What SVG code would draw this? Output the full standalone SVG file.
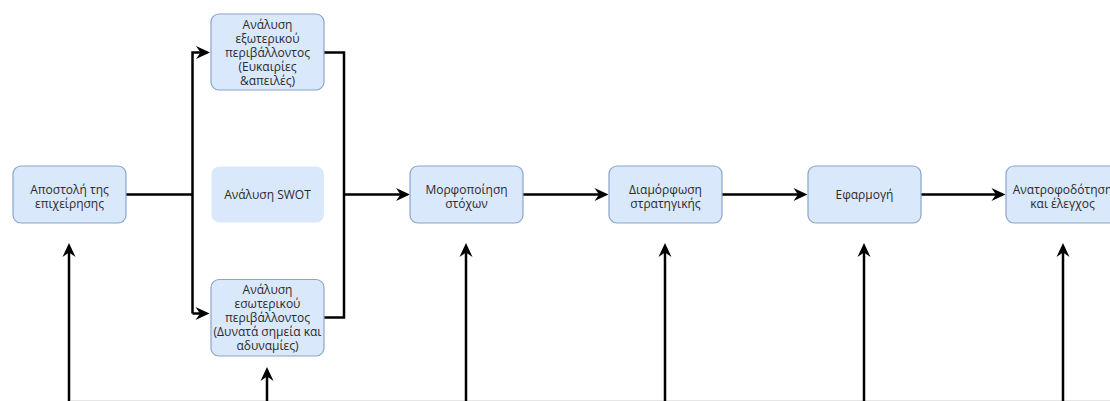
<svg xmlns="http://www.w3.org/2000/svg" width="1110" height="401" viewBox="0 0 1110 401">
  <style>
    .box { fill: #dae8fc; stroke: #8aa4c8; stroke-width: 1.2; }
    .plain { fill: #dae8fc; stroke: none; }
    .lbl { font-family: "Open Sans", "Liberation Sans", Arial, sans-serif; font-size: 12px; fill: #2a2a2a; text-anchor: middle; }
    .edge { fill: none; stroke: #000; stroke-width: 2.5; }
    .arr { marker-end: url(#arrow); }
  </style>
  <defs>
    <marker id="arrow" markerUnits="userSpaceOnUse" markerWidth="16" markerHeight="16" viewBox="-15 -8 15 16" refX="-9" refY="0" orient="auto">
      <path d="M0,0 L-14,-6.5 L-9.5,0 L-14,6.5 Z" fill="#000"/>
    </marker>
  </defs>
  <rect width="1110" height="401" fill="#fff"/>
  <line x1="71" y1="400.5" x2="1110" y2="400.5" stroke="#e6e6e6" stroke-width="1"/>

  <g id="connectors">
    <path class="edge" d="M126,194.5 H192.5"/>
    <path class="edge arr" d="M192.5,313.5 V52.5 H201"/>
    <path class="edge arr" d="M192.5,313.5 H200.5"/>
    <path class="edge" d="M324,52.5 H344 V317.5 H324"/>
    <path class="edge arr" d="M344,194.5 H401"/>
    <path class="edge arr" d="M523,194.5 H599.5"/>
    <path class="edge arr" d="M722,194.5 H798.5"/>
    <path class="edge arr" d="M921,194.5 H996.5"/>
    <path class="edge arr" d="M69,401 V252"/>
    <path class="edge arr" d="M267,401 V376"/>
    <path class="edge arr" d="M466,401 V252"/>
    <path class="edge arr" d="M665,401 V252"/>
    <path class="edge arr" d="M864,401 V252"/>
    <path class="edge arr" d="M1063,401 V252"/>
  </g>

  <g id="node-mission">
    <rect class="box" x="13" y="166" width="113" height="57" rx="8"/>
    <text class="lbl" y="193.5"><tspan x="69.5">Αποστολή της</tspan><tspan x="69.5" dy="14">επιχείρησης</tspan></text>
  </g>

  <g id="node-external">
    <rect class="box" x="211" y="14" width="113" height="76" rx="8"/>
    <text class="lbl" y="29"><tspan x="267.5">Ανάλυση</tspan><tspan x="267.5" dy="14">εξωτερικού</tspan><tspan x="267.5" dy="14">περιβάλλοντος</tspan><tspan x="267.5" dy="14">(Ευκαιρίες</tspan><tspan x="267.5" dy="14">&amp;απειλές)</tspan></text>
  </g>

  <g id="node-swot">
    <rect class="plain" x="211.5" y="166.5" width="112.5" height="56" rx="8"/>
    <text class="lbl" x="267.5" y="198.5">Ανάλυση SWOT</text>
  </g>

  <g id="node-internal">
    <rect class="box" x="211" y="279.5" width="113" height="76.5" rx="8"/>
    <text class="lbl" y="294"><tspan x="267.5">Ανάλυση</tspan><tspan x="267.5" dy="14">εσωτερικού</tspan><tspan x="267.5" dy="14">περιβάλλοντος</tspan><tspan x="267.5" dy="14">(Δυνατά σημεία και</tspan><tspan x="267.5" dy="14">αδυναμίες)</tspan></text>
  </g>

  <g id="node-goals">
    <rect class="box" x="410" y="166" width="113" height="57" rx="8"/>
    <text class="lbl" y="193.5"><tspan x="466.5">Μορφοποίηση</tspan><tspan x="466.5" dy="14">στόχων</tspan></text>
  </g>

  <g id="node-strategy">
    <rect class="box" x="609" y="166" width="113" height="57" rx="8"/>
    <text class="lbl" y="193.5"><tspan x="665.5">Διαμόρφωση</tspan><tspan x="665.5" dy="14">στρατηγικής</tspan></text>
  </g>

  <g id="node-implementation">
    <rect class="box" x="808" y="166" width="113" height="57" rx="8"/>
    <text class="lbl" x="864.5" y="198.5">Εφαρμογή</text>
  </g>

  <g id="node-feedback">
    <rect class="box" x="1006" y="166" width="113" height="57" rx="8"/>
    <text class="lbl" y="193.5"><tspan x="1062.5">Ανατροφοδότηση</tspan><tspan x="1062.5" dy="14">και έλεγχος</tspan></text>
  </g>
</svg>
